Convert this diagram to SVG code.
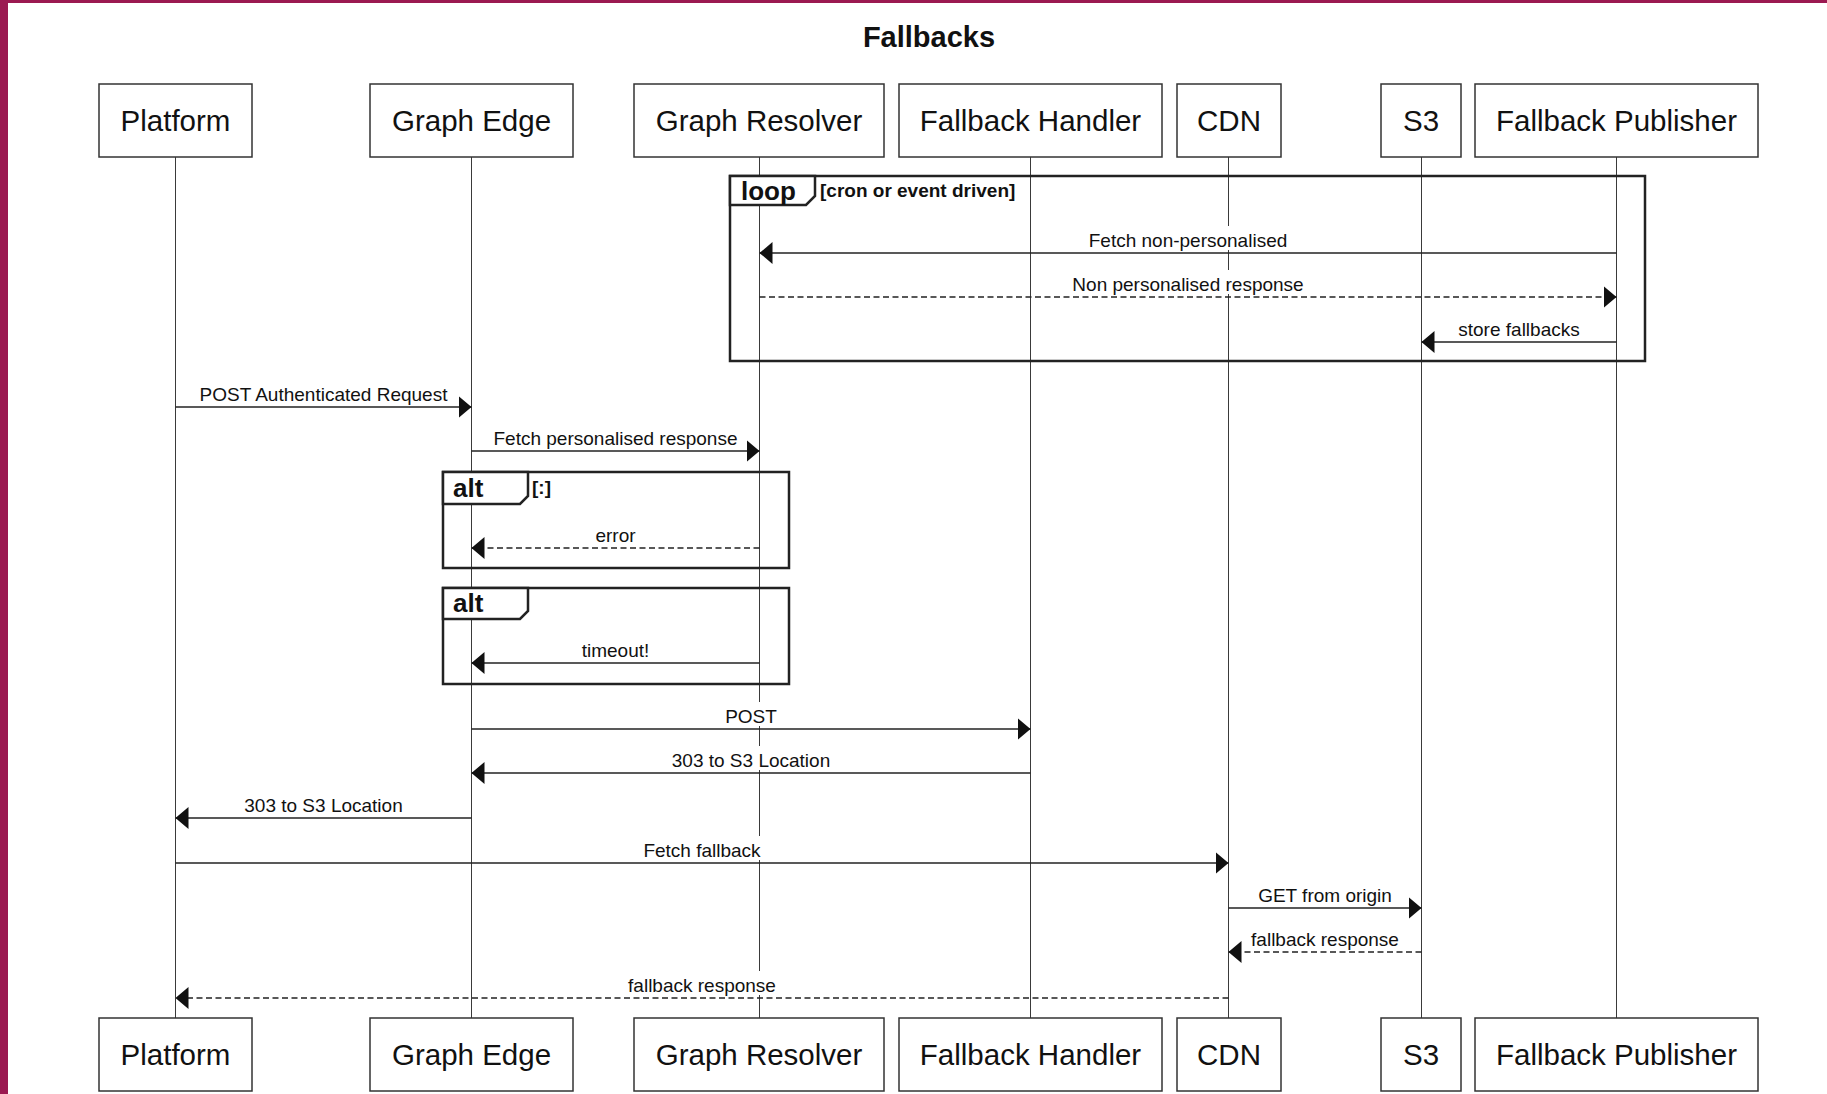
<svg xmlns="http://www.w3.org/2000/svg" width="1827" height="1094" viewBox="0 0 1827 1094">
<defs>
<style>
.bg{fill:#ffffff}
.edge{fill:#9b1951}
.actor{fill:#ffffff;stroke:#333333;stroke-width:1.5}
.aname{font-family:"Liberation Sans",Arial,sans-serif;font-size:29.5px;fill:#111111;text-anchor:middle}
.title{font-family:"Liberation Sans",Arial,sans-serif;font-size:29px;font-weight:bold;fill:#111111;text-anchor:middle}
.life{stroke:#3a3a3a;stroke-width:1;fill:none}
.frame{fill:none;stroke:#222222;stroke-width:2.5}
.tab{fill:#ffffff;stroke:#222222;stroke-width:2.5;stroke-linejoin:miter}
.ftitle{font-family:"Liberation Sans",Arial,sans-serif;font-size:26px;font-weight:bold;fill:#111111}
.fcond{font-family:"Liberation Sans",Arial,sans-serif;font-size:19px;font-weight:bold;fill:#111111}
.msg{stroke:#222222;stroke-width:1.5;fill:none;marker-end:url(#ah)}
.dash{stroke-dasharray:6 3.5}
.lbg{fill:#ffffff}
.mtext{font-family:"Liberation Sans",Arial,sans-serif;font-size:19px;fill:#111111;text-anchor:middle}
</style>
<marker id="ah" markerWidth="13" markerHeight="22" refX="13" refY="11" orient="auto" markerUnits="userSpaceOnUse">
<path d="M0,0 L13,11 L0,22 z" fill="#111111"/>
</marker>
</defs>
<rect class="bg" x="0" y="0" width="1827" height="1094"/>
<rect class="edge" x="0" y="0" width="8" height="1094"/>
<rect class="edge" x="0" y="0" width="1827" height="3"/>
<text class="title" x="929" y="47">Fallbacks</text>

<g id="lifelines">
<line class="life" x1="175.5" y1="157" x2="175.5" y2="1018"/>
<line class="life" x1="471.5" y1="157" x2="471.5" y2="1018"/>
<line class="life" x1="759.5" y1="157" x2="759.5" y2="1018"/>
<line class="life" x1="1030.5" y1="157" x2="1030.5" y2="1018"/>
<line class="life" x1="1228.5" y1="157" x2="1228.5" y2="1018"/>
<line class="life" x1="1421.5" y1="157" x2="1421.5" y2="1018"/>
<line class="life" x1="1616.5" y1="157" x2="1616.5" y2="1018"/>
</g>

<g id="platform">
<rect class="actor" x="99" y="84" width="153" height="73"/>
<text class="aname" x="175.5" y="131">Platform</text>
<rect class="actor" x="99" y="1018" width="153" height="73"/>
<text class="aname" x="175.5" y="1065">Platform</text>
</g>
<g id="graph-edge">
<rect class="actor" x="370" y="84" width="203" height="73"/>
<text class="aname" x="471.5" y="131">Graph Edge</text>
<rect class="actor" x="370" y="1018" width="203" height="73"/>
<text class="aname" x="471.5" y="1065">Graph Edge</text>
</g>
<g id="graph-resolver">
<rect class="actor" x="634" y="84" width="250" height="73"/>
<text class="aname" x="759" y="131">Graph Resolver</text>
<rect class="actor" x="634" y="1018" width="250" height="73"/>
<text class="aname" x="759" y="1065">Graph Resolver</text>
</g>
<g id="fallback-handler">
<rect class="actor" x="899" y="84" width="263" height="73"/>
<text class="aname" x="1030.5" y="131">Fallback Handler</text>
<rect class="actor" x="899" y="1018" width="263" height="73"/>
<text class="aname" x="1030.5" y="1065">Fallback Handler</text>
</g>
<g id="cdn">
<rect class="actor" x="1177" y="84" width="104" height="73"/>
<text class="aname" x="1229" y="131">CDN</text>
<rect class="actor" x="1177" y="1018" width="104" height="73"/>
<text class="aname" x="1229" y="1065">CDN</text>
</g>
<g id="s3">
<rect class="actor" x="1381" y="84" width="80" height="73"/>
<text class="aname" x="1421" y="131">S3</text>
<rect class="actor" x="1381" y="1018" width="80" height="73"/>
<text class="aname" x="1421" y="1065">S3</text>
</g>
<g id="fallback-publisher">
<rect class="actor" x="1475" y="84" width="283" height="73"/>
<text class="aname" x="1616.5" y="131">Fallback Publisher</text>
<rect class="actor" x="1475" y="1018" width="283" height="73"/>
<text class="aname" x="1616.5" y="1065">Fallback Publisher</text>
</g>

<g id="loop-frame">
<rect class="frame" x="730" y="176" width="915" height="185"/>
<path class="tab" d="M730,176 L815,176 L815,196 L806,205 L730,205 Z"/>
<text class="ftitle" x="741" y="200">loop</text>
<text class="fcond" x="820" y="197">[cron or event driven]</text>
</g>
<g id="alt-frame-1">
<rect class="frame" x="443" y="472" width="346" height="96"/>
<path class="tab" d="M443,472 L528,472 L528,496 L520,504 L443,504 Z"/>
<text class="ftitle" x="453" y="497">alt</text>
<text class="fcond" x="532" y="494">[:]</text>
</g>
<g id="alt-frame-2">
<rect class="frame" x="443" y="588" width="346" height="96"/>
<path class="tab" d="M443,588 L528,588 L528,611 L520,619 L443,619 Z"/>
<text class="ftitle" x="453" y="612">alt</text>
</g>

<g id="connectors">
<line class="msg" x1="1616.5" y1="253" x2="759.5" y2="253"/>
<line class="msg dash" x1="759.5" y1="297" x2="1616.5" y2="297"/>
<line class="msg" x1="1616.5" y1="342" x2="1421.5" y2="342"/>
<line class="msg" x1="175.5" y1="407" x2="471.5" y2="407"/>
<line class="msg" x1="471.5" y1="451" x2="759.5" y2="451"/>
<line class="msg dash" x1="759.5" y1="548" x2="471.5" y2="548"/>
<line class="msg" x1="759.5" y1="663" x2="471.5" y2="663"/>
<line class="msg" x1="471.5" y1="729" x2="1030.5" y2="729"/>
<line class="msg" x1="1030.5" y1="773" x2="471.5" y2="773"/>
<line class="msg" x1="471.5" y1="818" x2="175.5" y2="818"/>
<line class="msg" x1="175.5" y1="863" x2="1228.5" y2="863"/>
<line class="msg" x1="1228.5" y1="908" x2="1421.5" y2="908"/>
<line class="msg dash" x1="1421.5" y1="952" x2="1228.5" y2="952"/>
<line class="msg dash" x1="1228.5" y1="998" x2="175.5" y2="998"/>

<rect class="lbg" x="1086.8" y="226" width="202.5" height="24"/>
<rect class="lbg" x="1070.4" y="270" width="235.3" height="24"/>
<rect class="lbg" x="1456.3" y="315" width="125.4" height="24"/>
<rect class="lbg" x="196.9" y="380" width="253.2" height="24"/>
<rect class="lbg" x="491.6" y="424" width="247.9" height="24"/>
<rect class="lbg" x="593.5" y="521" width="44.1" height="24"/>
<rect class="lbg" x="579.7" y="636" width="71.6" height="24"/>
<rect class="lbg" x="723.2" y="702" width="55.7" height="24"/>
<rect class="lbg" x="669.8" y="746" width="162.4" height="24"/>
<rect class="lbg" x="242.3" y="791" width="162.4" height="24"/>
<rect class="lbg" x="641.4" y="836" width="121.2" height="24"/>
<rect class="lbg" x="1256" y="881" width="138" height="24"/>
<rect class="lbg" x="1249.1" y="925" width="151.8" height="24"/>
<rect class="lbg" x="626.1" y="971" width="151.8" height="24"/>

<text class="mtext" x="1188" y="247">Fetch non-personalised</text>
<text class="mtext" x="1188" y="291">Non personalised response</text>
<text class="mtext" x="1519" y="336">store fallbacks</text>
<text class="mtext" x="323.5" y="401">POST Authenticated Request</text>
<text class="mtext" x="615.5" y="445">Fetch personalised response</text>
<text class="mtext" x="615.5" y="542">error</text>
<text class="mtext" x="615.5" y="657">timeout!</text>
<text class="mtext" x="751" y="723">POST</text>
<text class="mtext" x="751" y="767">303 to S3 Location</text>
<text class="mtext" x="323.5" y="812">303 to S3 Location</text>
<text class="mtext" x="702" y="857">Fetch fallback</text>
<text class="mtext" x="1325" y="902">GET from origin</text>
<text class="mtext" x="1325" y="946">fallback response</text>
<text class="mtext" x="702" y="992">fallback response</text>
</g>
</svg>
